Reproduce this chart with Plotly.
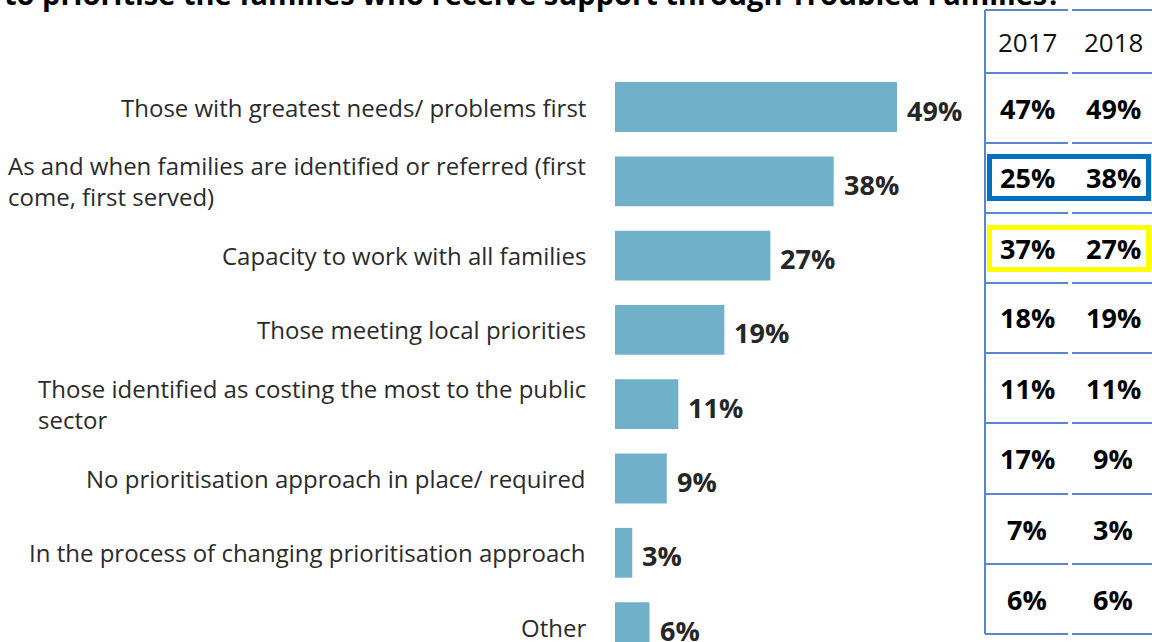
import plotly.graph_objects as go

# --- data ---------------------------------------------------------------
categories = [
    "Those with greatest needs/ problems first",
    "As and when families are identified or referred (first<br>come, first served)",
    "Capacity to work with all families",
    "Those meeting local priorities",
    "Those identified as costing the most to the public<br>sector",
    "No prioritisation approach in place/ required",
    "In the process of changing prioritisation approach",
    "Other",
]
share_2018 = [49, 38, 27, 19, 11, 9, 3, 6]

table_years = ["2017", "2018"]
table_2017 = [47, 25, 37, 18, 11, 17, 7, 6]
table_2018 = [49, 38, 27, 19, 11, 9, 3, 6]

title_text = "to prioritise the families who receive support through Troubled Families?"

# --- page geometry (pixels) ---------------------------------------------
W, H = 1152, 642
PX_PER_PCT = 5.755          # horizontal scale of the bar axis
BAR_ZERO_PX = 615           # where 0% sits
ROW0_PX, ROW_STEP_PX = 107, 74.3

def px(xp):
    return xp / W

def py(yp):
    return 1 - yp / H

x0 = -BAR_ZERO_PX / PX_PER_PCT
x1 = x0 + W / PX_PER_PCT
y_top = -ROW0_PX / ROW_STEP_PX
y_bot = y_top + H / ROW_STEP_PX

FONT = "Open Sans"
BAR_COLOR = "#71b0c9"
LABEL_COLOR = "#2b2b2b"
GRID_BLUE = "#5b84d3"

idx = list(range(len(categories)))

fig = go.Figure(
    go.Bar(
        x=share_2018,
        y=idx,
        orientation="h",
        width=0.67,
        marker=dict(color=BAR_COLOR, line=dict(width=0)),
        hoverinfo="skip",
    )
)

annotations = []

# category labels, right edge fixed, multi-line text left aligned
for i, cat in enumerate(categories):
    annotations.append(dict(
        x=px(588), xref="paper", y=i, yref="y",
        text=cat, showarrow=False, xanchor="right", yanchor="middle",
        align="left", font=dict(family=FONT, size=24, color=LABEL_COLOR),
    ))

# value labels at the end of each bar
for i, v in enumerate(share_2018):
    annotations.append(dict(
        x=v, xref="x", y=i, yref="y", xshift=8, yshift=-3,
        text=f"<b>{v}%</b>", showarrow=False, xanchor="left", yanchor="middle",
        font=dict(family=FONT, size=27, color="#262626"),
    ))

# comparison table on the right
col_x = [1027, 1113]
row_edges = [10, 73, 143, 213, 283, 353, 423, 494, 564, 634]
for c, year in enumerate(table_years):
    annotations.append(dict(
        x=px(col_x[c]), xref="paper", y=py((row_edges[0] + row_edges[1]) / 2), yref="paper",
        text=year, showarrow=False, xanchor="center", yanchor="middle",
        font=dict(family=FONT, size=26, color="#111111"),
    ))
for r in range(len(table_2017)):
    ymid = (row_edges[r + 1] + row_edges[r + 2]) / 2
    for c, vals in enumerate([table_2017, table_2018]):
        annotations.append(dict(
            x=px(col_x[c]), xref="paper", y=py(ymid), yref="paper",
            text=f"<b>{vals[r]}%</b>", showarrow=False, xanchor="center", yanchor="middle",
            font=dict(family=FONT, size=27, color="#000000"),
        ))

# title line across the top
annotations.append(dict(
    x=px(2), xref="paper", y=py(15), yref="paper",
    text=f"<b>{title_text}</b>", showarrow=False, xanchor="left", yanchor="bottom",
    font=dict(family=FONT, size=29, color="#000000"),
))

shapes = []
line = dict(color=GRID_BLUE, width=2)
# left border of the table
shapes.append(dict(type="line", xref="paper", yref="paper",
                   x0=px(985), x1=px(985), y0=py(row_edges[0]), y1=py(row_edges[-1]), line=line))
# row separators, split into two column segments
for ye in row_edges:
    shapes.append(dict(type="line", xref="paper", yref="paper",
                       x0=px(985), x1=px(1068), y0=py(ye), y1=py(ye), line=line))
    shapes.append(dict(type="line", xref="paper", yref="paper",
                       x0=px(1072), x1=px(1152), y0=py(ye), y1=py(ye), line=line))
# highlight boxes
shapes.append(dict(type="rect", xref="paper", yref="paper",
                   x0=px(989.5), x1=px(1148.5), y0=py(156.5), y1=py(198.5),
                   line=dict(color="#0070c0", width=5), fillcolor="rgba(0,0,0,0)"))
shapes.append(dict(type="rect", xref="paper", yref="paper",
                   x0=px(989.5), x1=px(1148.5), y0=py(227.5), y1=py(269.5),
                   line=dict(color="#ffff00", width=5), fillcolor="rgba(0,0,0,0)"))

fig.update_layout(
    width=W, height=H,
    margin=dict(l=0, r=0, t=0, b=0),
    paper_bgcolor="white", plot_bgcolor="white",
    showlegend=False,
    xaxis=dict(range=[x0, x1], visible=False, fixedrange=True),
    yaxis=dict(range=[y_bot, y_top], visible=False, fixedrange=True),
    annotations=annotations,
    shapes=shapes,
    font=dict(family=FONT),
)

fig.write_html("out.html", config={"displayModeBar": False})
